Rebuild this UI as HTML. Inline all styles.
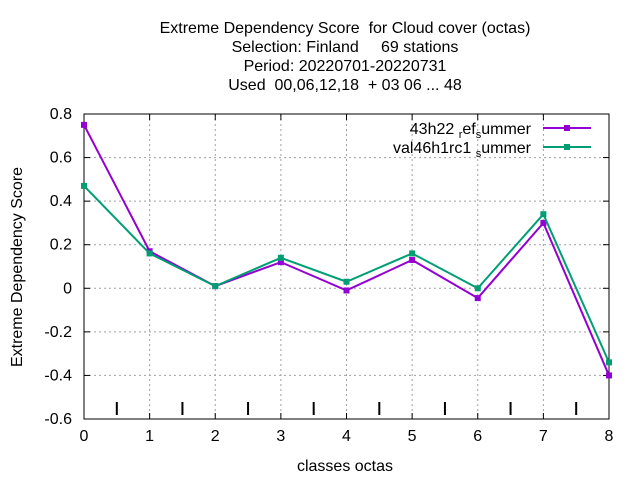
<!DOCTYPE html>
<html><head><meta charset="utf-8"><style>
body{margin:0;background:#fff}
text{font-family:"Liberation Sans",sans-serif;font-size:16px;fill:#000;white-space:pre}
</style></head><body>
<svg id="c" width="640" height="480" xmlns="http://www.w3.org/2000/svg">
<g>
<text x="345" y="33" text-anchor="middle" xml:space="preserve">Extreme Dependency Score  for Cloud cover (octas)</text>
<text x="345" y="52" text-anchor="middle" xml:space="preserve">Selection: Finland     69 stations</text>
<text x="345" y="71" text-anchor="middle">Period: 20220701-20220731</text>
<text x="345" y="90" text-anchor="middle" xml:space="preserve">Used  00,06,12,18  + 03 06 ... 48</text>
</g>
<g id="grid"></g>
<g id="axes"></g>
<text x="345" y="471" text-anchor="middle">classes octas</text>
<text transform="translate(22,267) rotate(-90)" text-anchor="middle">Extreme Dependency Score</text>
<g id="series"></g>
<g>
<text x="531" y="134" text-anchor="end">43h22 <tspan font-size="11" dy="4">r</tspan><tspan dy="-4">ef</tspan><tspan font-size="11" dy="4">s</tspan><tspan dy="-4">ummer</tspan></text>
<line x1="543" y1="128" x2="591" y2="128" stroke="#9400d3" stroke-width="2"/>
<rect x="564" y="125" width="6" height="6" fill="#9400d3"/>
<text x="531" y="153" text-anchor="end">val46h1rc1 <tspan font-size="11" dy="4">s</tspan><tspan dy="-4">ummer</tspan></text>
<line x1="543" y1="147" x2="591" y2="147" stroke="#009e73" stroke-width="2"/>
<rect x="564" y="144" width="6" height="6" fill="#009e73"/>
</g>
</svg>
<script>
const categories=[0,1,2,3,4,5,6,7,8];
const refValues=[0.75,0.17,0.01,0.12,-0.01,0.13,-0.045,0.30,-0.40];
const valValues=[0.47,0.16,0.01,0.14,0.03,0.16,0.0,0.34,-0.34];
const yTicks=[0.8,0.6,0.4,0.2,0,-0.2,-0.4,-0.6];
const xTicks=[0,1,2,3,4,5,6,7,8];
const NS="http://www.w3.org/2000/svg";
const L=84,R=609,T=114,B=419;
const xs=v=>L+(v-0)/(8-0)*(R-L);
const ys=v=>B-(v+0.6)/(1.4)*(B-T);
function mk(p,t,a){const e=document.createElementNS(NS,t);for(const k in a)e.setAttribute(k,a[k]);p.appendChild(e);return e;}
const grid=document.getElementById('grid'),axes=document.getElementById('axes'),ser=document.getElementById('series');
yTicks.forEach(v=>{const y=ys(v);
 if(v>-0.6&&v<0.8){const g=mk(grid,'line',{x1:L,x2:R,y1:y,y2:y,stroke:'#a0a0a0','stroke-dasharray':'2,3','stroke-width':1});
 }
 const t=mk(axes,'text',{x:L-12,y:y+5,'text-anchor':'end'});t.textContent=(v===0?'0':v.toFixed(1));
 
 mk(axes,'line',{x1:L,x2:L+6,y1:y,y2:y,stroke:'#000'});mk(axes,'line',{x1:R,x2:R-6,y1:y,y2:y,stroke:'#000'});
});
xTicks.forEach(v=>{const x=xs(v);
 if(v>0&&v<8){const g=mk(grid,'line',{x1:x,x2:x,y1:T,y2:B,stroke:'#a0a0a0','stroke-dasharray':'2,3','stroke-width':1});
 }
 const t=mk(axes,'text',{x:x,y:B+22,'text-anchor':'middle'});t.textContent=v;
 
 mk(axes,'line',{x1:x,x2:x,y1:B,y2:B-6,stroke:'#000'});mk(axes,'line',{x1:x,x2:x,y1:T,y2:T+6,stroke:'#000'});
 if(v<8){const m=mk(axes,'line',{x1:xs(v+0.5),x2:xs(v+0.5),y1:402,y2:415,stroke:'#000','stroke-width':2});
 }
});
const fr=mk(axes,'rect',{x:L,y:T,width:R-L,height:B-T,fill:'none',stroke:'#000'});

function draw(vals,col,name){
 const pl=mk(ser,'polyline',{points:categories.map((c,i)=>xs(c)+','+ys(vals[i])).join(' '),fill:'none',stroke:col,'stroke-width':2});
 
 categories.forEach((c,i)=>{const p=mk(ser,'rect',{x:xs(c)-3,y:ys(vals[i])-3,width:6,height:6,fill:col});
 });
}
draw(refValues,'#9400d3','ref-series');
draw(valValues,'#009e73','val-series');
</script>
</body></html>
